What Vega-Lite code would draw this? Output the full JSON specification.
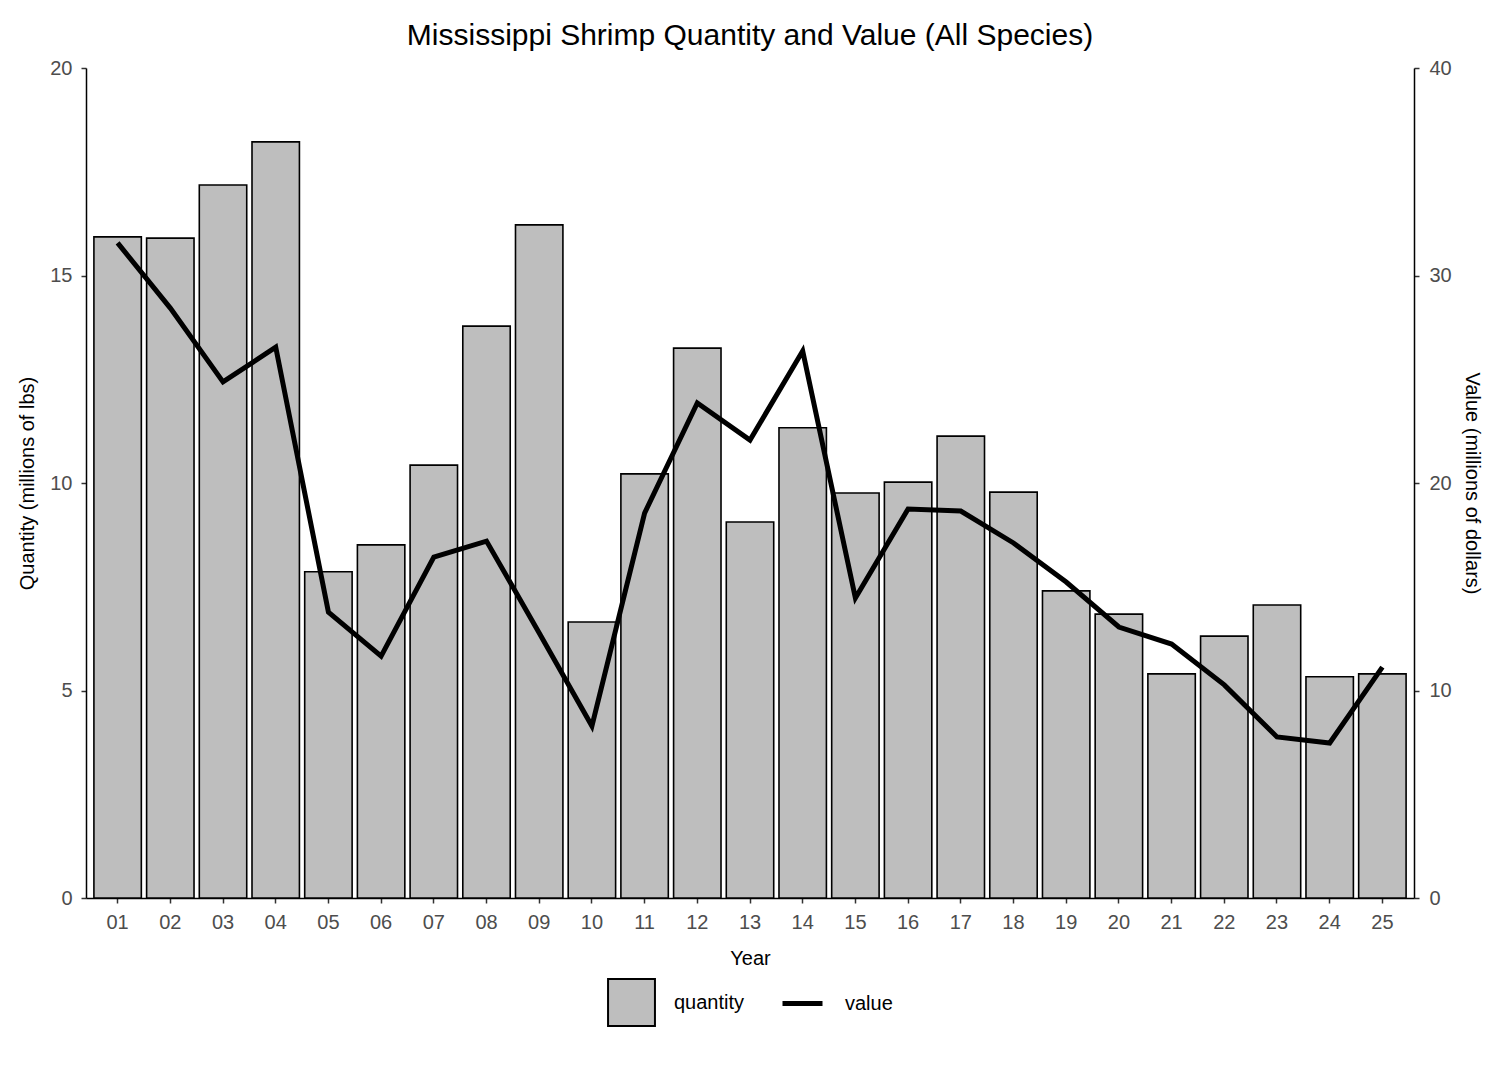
{
  "$schema": "https://vega.github.io/schema/vega-lite/v6.json",
  "width": 1328,
  "height": 830,
  "autosize": {"type": "none"},
  "padding": {"left": 86, "top": 68, "right": 72, "bottom": 170},
  "background": "white",
  "title": {
    "text": "Mississippi Shrimp Quantity and Value (All Species)",
    "anchor": "middle",
    "font": "Liberation Sans",
    "fontSize": 30,
    "fontWeight": "normal",
    "color": "black",
    "offset": 7
  },
  "data": {
    "values": [
      {"year": "01", "quantity": 15.93, "value": 31.57},
      {"year": "02", "quantity": 15.90, "value": 28.43},
      {"year": "03", "quantity": 17.18, "value": 24.87},
      {"year": "04", "quantity": 18.22, "value": 26.55},
      {"year": "05", "quantity": 7.86, "value": 13.78},
      {"year": "06", "quantity": 8.51, "value": 11.66},
      {"year": "07", "quantity": 10.43, "value": 16.43},
      {"year": "08", "quantity": 13.78, "value": 17.2},
      {"year": "09", "quantity": 16.22, "value": 12.77},
      {"year": "10", "quantity": 6.65, "value": 8.29},
      {"year": "11", "quantity": 10.22, "value": 18.55},
      {"year": "12", "quantity": 13.25, "value": 23.86},
      {"year": "13", "quantity": 9.06, "value": 22.07},
      {"year": "14", "quantity": 11.33, "value": 26.36},
      {"year": "15", "quantity": 9.76, "value": 14.46},
      {"year": "16", "quantity": 10.02, "value": 18.75},
      {"year": "17", "quantity": 11.13, "value": 18.65},
      {"year": "18", "quantity": 9.78, "value": 17.11},
      {"year": "19", "quantity": 7.40, "value": 15.23},
      {"year": "20", "quantity": 6.84, "value": 13.06},
      {"year": "21", "quantity": 5.40, "value": 12.24},
      {"year": "22", "quantity": 6.31, "value": 10.27},
      {"year": "23", "quantity": 7.06, "value": 7.76},
      {"year": "24", "quantity": 5.33, "value": 7.47},
      {"year": "25", "quantity": 5.40, "value": 11.13}
    ]
  },
  "encoding": {
    "x": {
      "field": "year",
      "type": "ordinal",
      "title": "Year",
      "scale": {"paddingInner": 0.1, "paddingOuter": 0.15},
      "axis": {"labelAngle": 0, "labelPadding": 9, "titlePadding": 16}
    }
  },
  "layer": [
    {
      "mark": {"type": "bar", "stroke": "black", "strokeWidth": 1.6},
      "encoding": {
        "y": {
          "field": "quantity",
          "type": "quantitative",
          "title": "Quantity (millions of lbs)",
          "scale": {"domain": [0, 20], "nice": false},
          "axis": {"values": [0, 5, 10, 15, 20], "orient": "left", "labelPadding": 9, "titlePadding": 12}
        },
        "fill": {
          "datum": "quantity",
          "type": "nominal",
          "scale": {"range": ["#BEBEBE"]},
          "legend": {
            "orient": "none",
            "legendX": 521,
            "legendY": 910,
            "title": null,
            "symbolType": "square",
            "symbolSize": 2200,
            "symbolStrokeColor": "black",
            "symbolStrokeWidth": 2,
            "symbolOpacity": 1,
            "labelFontSize": 20,
            "labelFont": "Liberation Sans",
            "labelColor": "black",
            "labelOffset": 18
          }
        }
      }
    },
    {
      "mark": {"type": "line", "strokeWidth": 5},
      "encoding": {
        "y": {
          "field": "value",
          "type": "quantitative",
          "title": "Value (millions of dollars)",
          "scale": {"domain": [0, 40], "nice": false},
          "axis": {"values": [0, 10, 20, 30, 40], "orient": "right", "labelPadding": 10, "titlePadding": 10}
        },
        "stroke": {
          "datum": "value",
          "type": "nominal",
          "scale": {"range": ["black"]},
          "legend": {
            "orient": "none",
            "legendX": 694,
            "legendY": 913,
            "title": null,
            "symbolType": "stroke",
            "symbolSize": 1600,
            "symbolStrokeWidth": 5,
            "labelFontSize": 20,
            "labelFont": "Liberation Sans",
            "labelColor": "black",
            "labelOffset": 20
          }
        }
      }
    }
  ],
  "resolve": {"scale": {"y": "independent", "fill": "independent", "stroke": "independent"}},
  "config": {
    "view": {"stroke": null},
    "axis": {
      "grid": false,
      "domainColor": "black",
      "domainWidth": 1.5,
      "tickColor": "#333333",
      "tickWidth": 1.5,
      "tickSize": 5,
      "labelFont": "Liberation Sans",
      "labelFontSize": 20,
      "labelColor": "#4D4D4D",
      "titleFont": "Liberation Sans",
      "titleFontSize": 20,
      "titleFontWeight": "normal",
      "titleColor": "black"
    }
  }
}
